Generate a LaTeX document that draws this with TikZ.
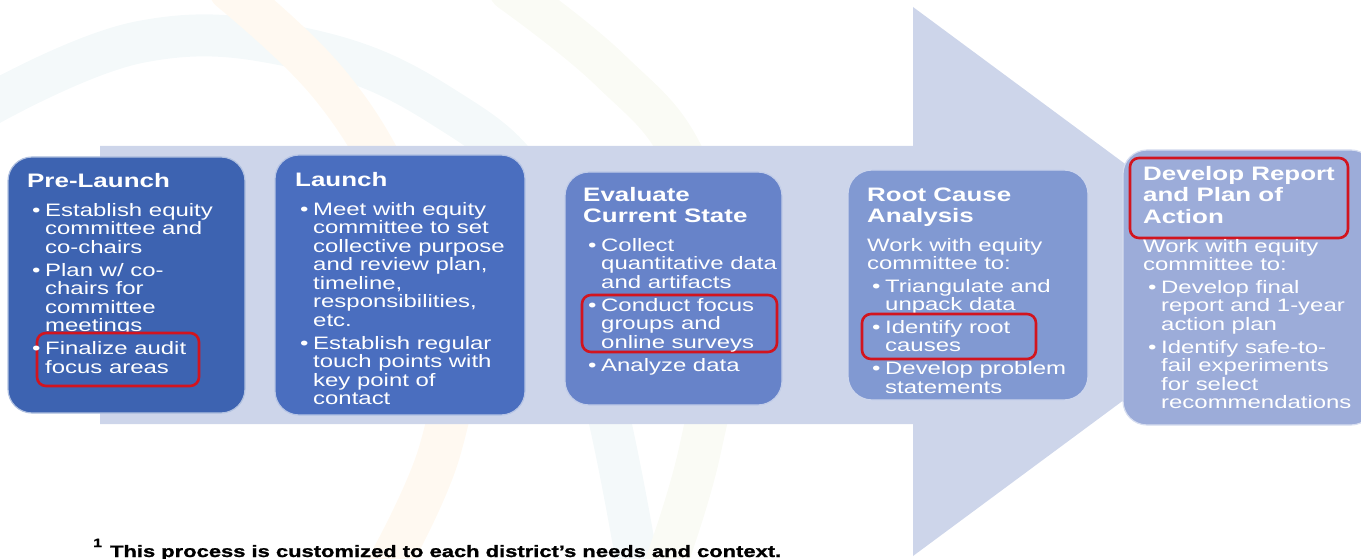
\documentclass[tikz,border=0pt]{standalone}
\usepackage{fontspec}
\setmainfont{Liberation Sans}[FakeStretch=1.33]
\usetikzlibrary{positioning}

\definecolor{stageA}{HTML}{3D63B1}
\definecolor{stageB}{HTML}{4A6EBF}
\definecolor{stageC}{HTML}{6783C9}
\definecolor{stageD}{HTML}{8199D2}
\definecolor{stageE}{HTML}{9CACD9}
\definecolor{flow}{HTML}{CDD5EA}
\definecolor{hired}{HTML}{D2141E}
\definecolor{wmcyan}{HTML}{F4F9FA}
\definecolor{wmorange}{HTML}{FFF9F1}
\definecolor{wmgreen}{HTML}{FAFBF5}

% bullet line, continuation line, plain first line
\newcommand\bul{\rule{0pt}{14pt}\hspace*{5pt}\makebox[13pt][l]{\textbullet}}
\newcommand\ind{\hspace*{18pt}}
\newcommand\st{\rule{0pt}{14pt}}

\begin{document}
\begin{tikzpicture}[x=1pt, y=-1pt,
  stage/.style={fill=#1, draw=white!60!#1, line width=1.2pt, rounded corners=24pt},
  hilite/.style={fill=#1, draw=hired, line width=2.6pt, rounded corners=9pt},
  wm/.style={draw=#1, line width=42pt, line cap=round},
  hd/.style={anchor=north west, inner sep=0pt, align=left, text=white,
    font={\fontsize{19.5}{21}\selectfont\bfseries}},
  txt/.style={anchor=north west, inner sep=0pt, align=left, text=white,
    font={\fontsize{18}{18.5}\selectfont}},
  foot/.style={anchor=base west, inner sep=0pt,
    font={\fontsize{16.5}{16}\selectfont\bfseries\addfontfeatures{FakeBold=1.2}}}]

\useasboundingbox (0,0) rectangle (1361,559);

% faint rings in the background
\draw[wm=wmcyan] plot[smooth, tension=0.7] coordinates {(-20,110) (140,42) (300,48) (440,105) (540,200) (600,380) (640,580)};
\draw[wm=wmorange] plot[smooth, tension=0.7] coordinates {(230,-10) (330,85) (400,200) (450,330) (440,450) (380,580)};
\draw[wm=wmgreen] plot[smooth, tension=0.7] coordinates {(510,-10) (610,70) (685,160) (720,300) (700,450) (660,580)};

% big process arrow
\fill[flow] (100,146) -- (913,146) -- (913,7) -- (1284,281.5) -- (913,556)
  -- (913,424) -- (100,424) -- cycle;

% stage boxes
\draw[stage=stageA] (8,157) rectangle (245,413);
\draw[stage=stageB] (275,155) rectangle (525,415);
\draw[stage=stageC] (565,172) rectangle (782,405);
\draw[stage=stageD] (848,170) rectangle (1088,400);
\draw[stage=stageE] (1123,150) rectangle (1375,425);

% Pre-Launch
\node[hd] (prehd) at (27,172) {\rule{0pt}{15pt}Pre-Launch};
\node[txt] (prea) at (27,202) {\bul Establish equity\\ \ind committee and\\ \ind co-chairs\\[4.5pt]
  \bul Plan w/ co-\\ \ind chairs for\\ \ind committee\\ \ind meetings};
\draw[hilite=stageA] (37,333) rectangle (199,386);
\node[txt] (preb) at (27,340.5) {\bul Finalize audit\\ \ind focus areas};

% Launch
\node[hd] (lnchd) at (295,171) {\rule{0pt}{15pt}Launch};
\node[txt] (lnc) at (295,201) {\bul Meet with equity\\ \ind committee to set\\ \ind collective purpose\\
  \ind and review plan,\\ \ind timeline,\\ \ind responsibilities,\\ \ind etc.\\[4.5pt]
  \bul Establish regular\\ \ind touch points with\\ \ind key point of\\ \ind contact};

% Evaluate Current State
\node[hd] (evalhd) at (583,186) {\rule{0pt}{15pt}Evaluate\\ Current State};
\node[txt] (evala) at (583,237) {\bul Collect\\ \ind quantitative data\\ \ind and artifacts};
\draw[hilite=stageC] (582,295) rectangle (777,352);
\node[txt] (evalb) at (583,297) {\bul Conduct focus\\ \ind groups and\\ \ind online surveys\\[4.5pt]
  \bul Analyze data};

% Root Cause Analysis
\node[hd] (roothd) at (867,186) {\rule{0pt}{15pt}Root Cause\\ Analysis};
\node[txt] (roota) at (867,237) {\st Work with equity\\ committee to:\\[4pt]
  \bul Triangulate and\\ \ind unpack data};
\draw[hilite=stageD] (862,314) rectangle (1036,359);
\node[txt] (rootb) at (867,319) {\bul Identify root\\ \ind causes\\[4.5pt]
  \bul Develop problem\\ \ind statements};

% Develop Report and Plan of Action
\draw[hilite=stageE] (1130,158) rectangle (1348,238);
\node[hd] (dvlhd) at (1143,165) {\rule{0pt}{15pt}Develop Report\\[0.5pt] and Plan of\\[0.5pt] Action};
\node[txt] (dvl) at (1143,238) {\st Work with equity\\ committee to:\\[4pt]
  \bul Develop final\\ \ind report and 1-year\\ \ind action plan\\[4.5pt]
  \bul Identify safe-to-\\ \ind fail experiments\\ \ind for select\\ \ind recommendations};

% footnote
\node[foot] (note) at (93,557) {\raisebox{10pt}{\fontsize{12}{12}\selectfont 1}\hspace{8pt}This process is customized to each district’s needs and context.};
\end{tikzpicture}
\end{document}
